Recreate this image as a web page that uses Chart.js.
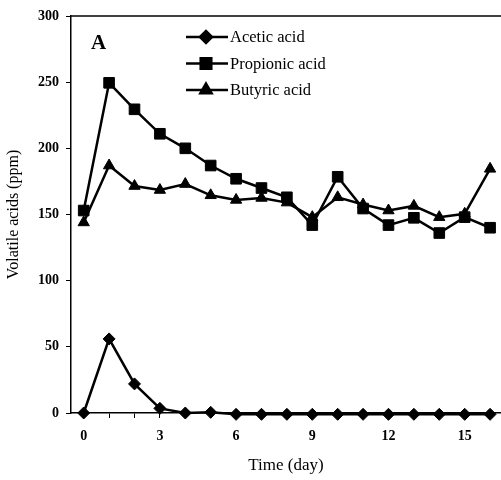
<!DOCTYPE html>
<html lang="en">
<head>
  <meta charset="UTF-8" />
  <title>Volatile acids</title>
  <script src="https://cdn.jsdelivr.net/npm/chart.js"></script>
  <style>
    html, body { margin: 0; padding: 0; background: #fff; }
    .wrap { width: 501px; height: 480px; position: relative; }
  </style>
</head>
<body>
  <div class="wrap"><canvas id="chart"></canvas></div>

  <script>
    // data
    const days = [0, 1, 2, 3, 4, 5, 6, 7, 8, 9, 10, 11, 12, 13, 14, 15, 16];
    const acetic = [0, 56, 22, 3.5, 0, 0.5, -1, -1, -1, -1, -1, -1, -1, -1, -1, -1, -1];
    const propionic = [153, 249.5, 229.5, 211, 200, 187, 177, 170, 163, 142, 178.5, 154.5, 142, 147.5, 136, 148, 140];
    const butyric = [144, 187, 171.5, 168.5, 173, 164.5, 161, 162.5, 159, 148, 163, 157.5, 153, 156.5, 148, 150.5, 184.5];
    const yTicks = [0, 50, 100, 150, 200, 250, 300];
    const xLabels = [0, 3, 6, 9, 12, 15];

    const serif = "'Liberation Serif', 'Times New Roman', serif";

    const toPts = vals => vals.map((v, i) => ({ x: days[i], y: v }));

    function series(label, vals, style, radius) {
      return {
        label: label,
        data: toPts(vals),
        borderColor: '#000',
        backgroundColor: '#000',
        borderWidth: 2.5,
        pointStyle: style,
        pointRadius: radius,
        pointBackgroundColor: '#000',
        pointBorderColor: '#000',
        pointBorderWidth: 1,
        tension: 0,
        clip: false
      };
    }

    // frame top line, panel letter and the in-plot legend
    const decor = {
      id: 'decor',
      afterDraw(chart) {
        const ctx = chart.ctx;
        const a = chart.chartArea;
        ctx.save();
        ctx.strokeStyle = '#000';
        ctx.lineWidth = 1.5;
        ctx.beginPath();
        ctx.moveTo(a.left, a.top);
        ctx.lineTo(a.right, a.top);
        ctx.stroke();

        ctx.fillStyle = '#000';
        ctx.font = 'bold 21px ' + serif;
        ctx.textBaseline = 'middle';
        ctx.textAlign = 'left';
        ctx.fillText('A', 91, 44);

        ctx.font = '16.5px ' + serif;
        chart.data.datasets.forEach((ds, i) => {
          const y = 37 + i * 26.5;
          ctx.strokeStyle = '#000';
          ctx.lineWidth = 2.5;
          ctx.beginPath();
          ctx.moveTo(186, y);
          ctx.lineTo(228, y);
          ctx.stroke();
          ctx.fillStyle = '#000';
          Chart.helpers.drawPoint(ctx, {
            pointStyle: ds.pointStyle,
            radius: ds.pointRadius,
            rotation: 0,
            borderWidth: 1
          }, 206, y);
          ctx.fillStyle = '#000';
          ctx.fillText(ds.label, 230, y + 1);
        });
        ctx.restore();
      }
    };

    new Chart(document.getElementById('chart'), {
      type: 'line',
      data: {
        datasets: [
          series('Acetic acid', acetic, 'rectRot', 6),
          series('Propionic acid', propionic, 'rect', 7.5),
          series('Butyric acid', butyric, 'triangle', 6.5)
        ]
      },
      options: {
        responsive: true,
        maintainAspectRatio: false,
        animation: false,
        layout: { autoPadding: false, padding: { top: 16, right: 0, left: 0, bottom: 0 } },
        plugins: {
          legend: { display: false },
          tooltip: { enabled: false }
        },
        scales: {
          x: {
            type: 'linear',
            min: -0.5,
            max: 16.43,
            afterBuildTicks: s => { s.ticks = days.map(v => ({ value: v })); },
            afterFit: s => { s.height = 67; s.paddingRight = 0; s.paddingLeft = 0; },
            ticks: {
              autoSkip: false,
              maxRotation: 0,
              padding: 10,
              color: '#000',
              font: { family: serif, size: 14, weight: 'bold' },
              callback: v => xLabels.includes(v) ? v : ''
            },
            grid: { drawOnChartArea: false, color: '#000', tickLength: 5, tickWidth: 1 },
            border: { color: '#000', width: 1.5 },
            title: {
              display: true,
              text: 'Time (day)',
              color: '#000',
              font: { family: serif, size: 17 },
              padding: { top: 16 }
            }
          },
          y: {
            min: 0,
            max: 300,
            afterBuildTicks: s => { s.ticks = yTicks.map(v => ({ value: v })); },
            afterFit: s => { s.width = 71; },
            ticks: {
              padding: 7,
              color: '#000',
              font: { family: serif, size: 14, weight: 'bold' }
            },
            grid: { drawOnChartArea: false, color: '#000', tickLength: 5, tickWidth: 1 },
            border: { color: '#000', width: 1.5 },
            title: {
              display: true,
              text: 'Volatile acids (ppm)',
              color: '#000',
              font: { family: serif, size: 16 },
              padding: { bottom: 2 }
            }
          }
        }
      },
      plugins: [decor]
    });
  </script>
</body>
</html>
